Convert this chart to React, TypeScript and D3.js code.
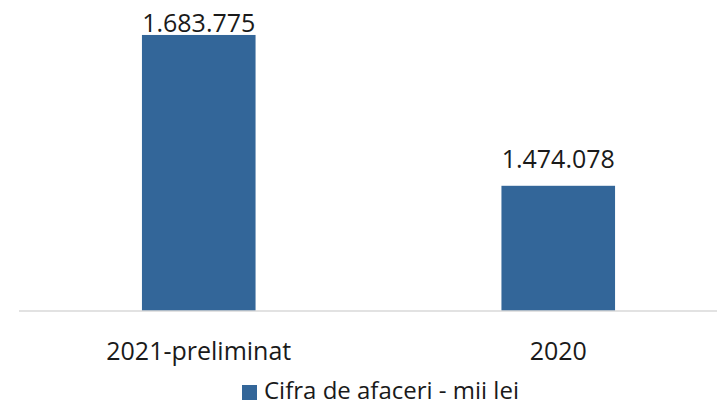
import React from "react";
import * as d3 from "d3";

const categories = ["2021-preliminat", "2020"];
const values = [1683775, 1474078];
const seriesName = "Cifra de afaceri - mii lei";
const yDomain = [1300000, 1700000];

const W = 717;
const H = 405;
const FONT = "'Open Sans', 'DejaVu Sans', sans-serif";
const BAR = "#336699";
const TEXT = "#1a1a1a";

const fmt = (v: number) => d3.format(",")(v).replace(/,/g, ".");

export default function App() {
  const x = d3
    .scaleBand<string>()
    .domain(categories)
    .range([19, 738])
    .paddingInner(0.684)
    .paddingOuter(0.342);
  const y = d3.scaleLinear().domain(yDomain).range([311, 23.3]);
  const base = y(yDomain[0]);

  return (
    <svg
      width={W}
      height={H}
      style={{ position: "absolute", left: 0, top: 0, background: "#fff" }}
      fontFamily={FONT}
    >
      {categories.map((c, i) => (
        <rect
          key={c}
          x={x(c)}
          y={y(values[i])}
          width={x.bandwidth()}
          height={base - y(values[i])}
          fill={BAR}
        />
      ))}
      <line x1={19} x2={W} y1={base} y2={base} stroke="#d9d9d9" strokeWidth={1.5} />
      {categories.map((c, i) => (
        <text
          key={"v" + c}
          x={(x(c) as number) + x.bandwidth() / 2}
          y={Math.max(y(values[i]) - 18, 32)}
          textAnchor="middle"
          fontSize={25}
          fill={TEXT}
        >
          {fmt(values[i])}
        </text>
      ))}
      {categories.map((c) => (
        <text
          key={"c" + c}
          x={(x(c) as number) + x.bandwidth() / 2}
          y={360}
          textAnchor="middle"
          fontSize={25}
          fill={TEXT}
        >
          {c}
        </text>
      ))}
      <rect x={242} y={385} width={15} height={15} fill={BAR} />
      <text x={264} y={399} fontSize={24} fill={TEXT}>
        {seriesName}
      </text>
    </svg>
  );
}
